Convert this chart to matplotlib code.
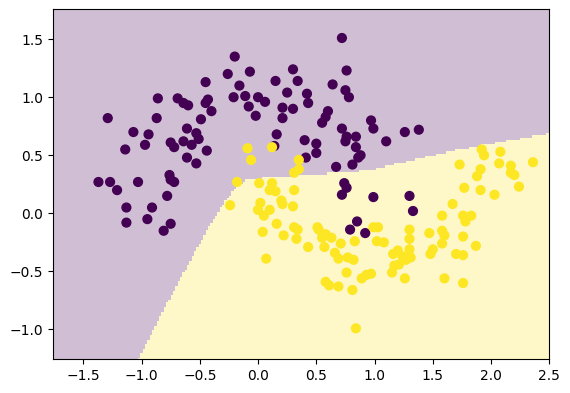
import numpy as np
import matplotlib.pyplot as plt

# two moon classes
x0 = [-0.45, -0.86, -0.69, -0.64, -0.60, -0.43, -0.45, -0.40, -0.49, -1.29,
      -0.87, -0.61, -0.53, -0.51, -1.07, -0.94, -0.97, -1.14, -0.75, -0.72,
      -0.64, -0.57, -0.44, -0.61, -0.53, -1.37, -1.27, -1.21, -1.03, -0.76,
      -0.75, -0.72, -0.78, -1.13, -0.91, -1.13, -0.95, -0.75, -0.81, 0.72,
      -0.20, -0.26, -0.07, 0.30, 0.76, -0.16, 0.15, 0.34, 0.64, -0.21,
      -0.11, 0.00, 0.06, 0.25, 0.42, 0.43, 0.75, 0.78, -0.08, -0.02,
      0.21, 0.30, 0.21, 0.60, 0.58, 0.55, 0.97, 0.99, 0.72, 0.16,
      0.40, 0.50, 0.76, 0.75, 0.84, 0.84, 0.14, 0.50, 0.41, 0.88,
      0.86, 0.81, 0.67, 0.74, 0.76, 0.72, 0.99, 0.85, 0.79, 0.92,
      1.10, 1.30, 1.33, 1.26, 1.38]
y0 = [1.13, 0.99, 0.99, 0.95, 0.93, 0.98, 0.95, 0.88, 0.81, 0.82,
      0.82, 0.73, 0.69, 0.64, 0.70, 0.68, 0.59, 0.55, 0.61, 0.57,
      0.62, 0.59, 0.54, 0.48, 0.43, 0.27, 0.27, 0.20, 0.27, 0.33,
      0.29, 0.27, 0.15, 0.05, 0.05, -0.08, -0.05, -0.09, -0.15, 1.51,
      1.35, 1.20, 1.22, 1.24, 1.23, 1.10, 1.14, 1.14, 1.11, 1.00,
      1.01, 1.00, 0.96, 1.04, 1.03, 0.95, 1.06, 1.00, 0.92, 0.84,
      0.91, 0.90, 0.82, 0.88, 0.83, 0.78, 0.80, 0.73, 0.73, 0.68,
      0.63, 0.60, 0.66, 0.62, 0.66, 0.57, 0.58, 0.52, 0.48, 0.50,
      0.48, 0.42, 0.40, 0.26, 0.22, 0.16, 0.14, -0.07, -0.14, -0.17,
      0.62, 0.15, 0.02, 0.70, 0.72]

x1 = [-0.09, 0.12, -0.06, 0.35, 0.35, 0.31, -0.18, 0.01, 0.12, 0.15,
      0.10, 0.31, -0.24, 0.02, 0.00, 0.05, 0.10, 0.20, 0.21, 0.30,
      0.16, 0.04, 0.22, 0.31, 0.34, 0.33, 0.43, 0.07, 0.51, 0.52,
      0.58, 0.55, 0.63, 0.57, 0.71, 0.83, 0.66, 0.69, 0.77, 0.82,
      0.76, 0.58, 0.61, 0.69, 0.81, 0.89, 0.93, 0.97, 0.84, 0.99,
      1.03, 1.02, 1.92, 1.94, 2.08, 1.73, 1.91, 1.88, 2.07, 2.17,
      2.17, 2.20, 2.36, 1.77, 1.91, 2.03, 2.24, 1.67, 1.58, 1.76,
      1.83, 1.78, 1.08, 1.30, 1.30, 1.47, 1.58, 1.60, 1.76, 1.87,
      1.58, 1.30, 1.50, 1.48, 1.70, 1.76, 1.16, 1.20, 1.24, 1.31,
      1.27, 1.21, 1.17, 1.15, 1.26, 1.60, 1.76]
y1 = [0.56, 0.57, 0.46, 0.46, 0.38, 0.35, 0.27, 0.26, 0.26, 0.19,
      0.20, 0.20, 0.07, 0.09, 0.03, -0.02, 0.03, 0.11, 0.08, 0.06,
      -0.09, -0.16, -0.19, -0.12, -0.14, -0.22, -0.29, -0.39, -0.12, -0.14,
      -0.18, -0.21, -0.21, -0.29, -0.26, -0.24, -0.34, -0.39, -0.38, -0.40,
      -0.51, -0.59, -0.62, -0.63, -0.66, -0.56, -0.53, -0.52, -0.99, -0.12,
      -0.12, -0.24, 0.55, 0.50, 0.53, 0.42, 0.38, 0.32, 0.43, 0.41,
      0.35, 0.33, 0.44, 0.22, 0.20, 0.16, 0.23, 0.08, -0.02, -0.02,
      -0.02, -0.07, -0.25, -0.14, -0.22, -0.17, -0.15, -0.19, -0.20, -0.28,
      -0.26, -0.31, -0.31, -0.35, -0.35, -0.36, -0.35, -0.32, -0.37, -0.38,
      -0.40, -0.44, -0.45, -0.51, -0.56, -0.56, -0.60]

# decision boundary of the classifier (yellow below it)
bound_x = [-1.76, -1.03, -0.82, -0.62, -0.42, -0.27, -0.20, -0.10, -0.01, 0.96, 1.33, 1.73, 2.50]
bound_y = [-2.60, -1.26, -0.85, -0.48, -0.11, 0.12, 0.22, 0.29, 0.30, 0.37, 0.46, 0.55, 0.69]

x_min, x_max = -1.76, 2.50
y_min, y_max = -1.257, 1.757
h = 0.02

X = np.array(x0 + x1)
Y = np.array(y0 + y1)
labels = np.array([0] * len(x0) + [1] * len(x1))

xx, yy = np.meshgrid(np.arange(x_min, x_max + h, h), np.arange(y_min, y_max + h, h))
Z = (yy < np.interp(xx, bound_x, bound_y)).astype(float)

fig = plt.figure(figsize=(5.7, 3.93), dpi=100)
ax = fig.add_axes([53 / 570, 33.7 / 393, 496.3 / 570, 350 / 393])
ax.pcolormesh(xx, yy, Z, cmap='viridis', alpha=0.25, shading='nearest',
              edgecolors='none', antialiased=False)
ax.scatter(X, Y, c=labels, cmap='viridis', s=40)
ax.set_xlim(x_min, x_max)
ax.set_ylim(y_min, y_max)

fig.savefig('out.png', dpi=100)
